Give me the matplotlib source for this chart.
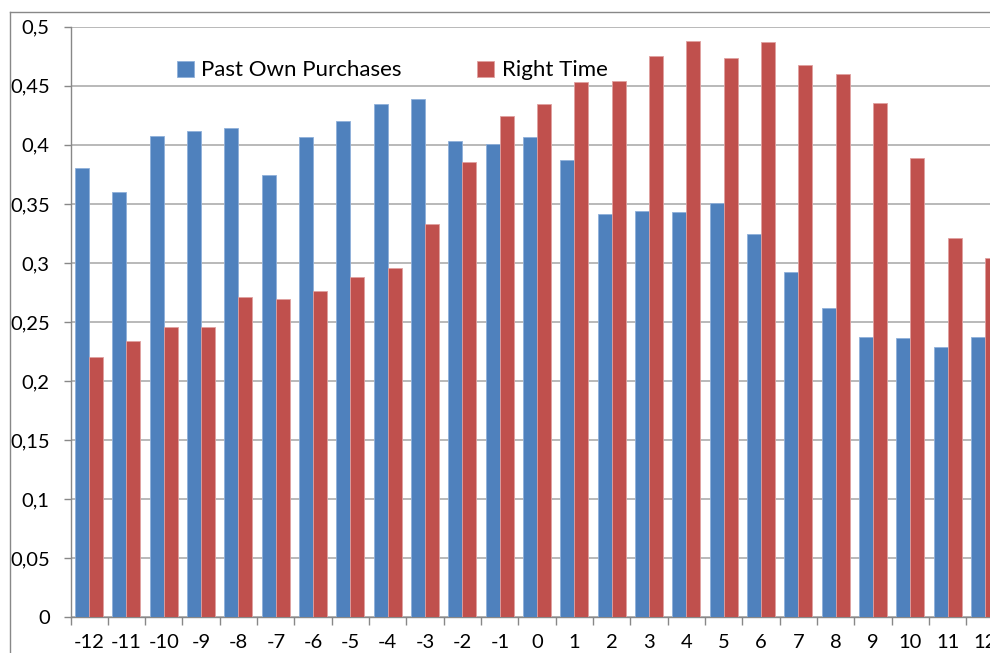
import matplotlib
matplotlib.use("Agg")
import matplotlib.pyplot as plt
import numpy as np
from matplotlib.lines import Line2D
from matplotlib.ticker import FixedLocator, FuncFormatter

plt.rcParams['font.family'] = ['Lato', 'DejaVu Sans']

categories = [str(i) for i in range(-12, 13)]
past_own_purchases = [0.380, 0.360, 0.4075, 0.4114, 0.4145, 0.3742, 0.4069, 0.4199, 0.4343,
                      0.4385, 0.4035, 0.4007, 0.4064, 0.3869, 0.3412, 0.3443, 0.3431, 0.3508,
                      0.3242, 0.2923, 0.2616, 0.2373, 0.2362, 0.2286, 0.2373]
right_time = [0.2206, 0.2339, 0.246, 0.246, 0.2712, 0.2692, 0.2765, 0.2884, 0.2954,
              0.3327, 0.3852, 0.4247, 0.4348, 0.4535, 0.4543, 0.4749, 0.4876, 0.4732,
              0.4868, 0.4679, 0.460, 0.4354, 0.3891, 0.3214, 0.3042]
y_ticks = [0, 0.05, 0.1, 0.15, 0.2, 0.25, 0.3, 0.35, 0.4, 0.45, 0.5]

W, H = 990, 653
fig = plt.figure(figsize=(W / 100, H / 100), dpi=100)
left, right = 70.5, 1003.8
bottom, top = 617.3, 26.7
ax = fig.add_axes([left / W, (H - bottom) / H, (right - left) / W, (bottom - top) / H])

x = np.arange(len(categories))
bw = 0.375
blue = '#4F81BD'
red = '#C0504D'
ax.bar(x - bw / 2, past_own_purchases, width=bw, color=blue, edgecolor='#8FB0DA',
       linewidth=0.6, label='Past Own Purchases', zorder=3)
ax.bar(x + bw / 2, right_time, width=bw, color=red, edgecolor='#E0A0A0',
       linewidth=0.6, label='Right Time', zorder=3)

ax.set_xlim(-0.5, len(categories) - 0.5)
ax.set_ylim(0, 0.5)

grid_c = '#B3B3B3'
ax.yaxis.set_major_locator(FixedLocator(y_ticks))
ax.yaxis.set_major_formatter(FuncFormatter(lambda v, p: f"{v:g}".replace('.', ',')))
ax.grid(axis='y', color=grid_c, linewidth=1.3, zorder=0)
ax.set_axisbelow(True)

ax.set_xticks(x)
ax.set_xticklabels(categories)
ax.set_xticks(np.arange(-0.5, len(categories)), minor=True)
ax.tick_params(axis='x', which='major', length=0, pad=12, labelsize=14.5)
ax.tick_params(axis='x', which='minor', length=6, width=1, color='#888888', direction='out')
ax.tick_params(axis='y', which='major', length=5, width=1, color='#888888', pad=10, labelsize=14.5)

for s in ['top', 'right']:
    ax.spines[s].set_visible(False)
for s in ['left', 'bottom']:
    ax.spines[s].set_color('#888888')
    ax.spines[s].set_linewidth(1)

leg = ax.legend(ncol=2, loc='upper left', bbox_to_anchor=(0.1045, 0.958), frameon=False,
                fontsize=16, handlelength=0.75, handleheight=0.75, handletextpad=0.35,
                columnspacing=3.4, borderaxespad=0)

# chart area border
fig.add_artist(Line2D([10 / W, 10 / W], [0, (H - 12) / H], color='#888888', linewidth=1))
fig.add_artist(Line2D([10 / W, 1], [(H - 12) / H, (H - 12) / H], color='#888888', linewidth=1))

fig.savefig('out.png', dpi=100)
